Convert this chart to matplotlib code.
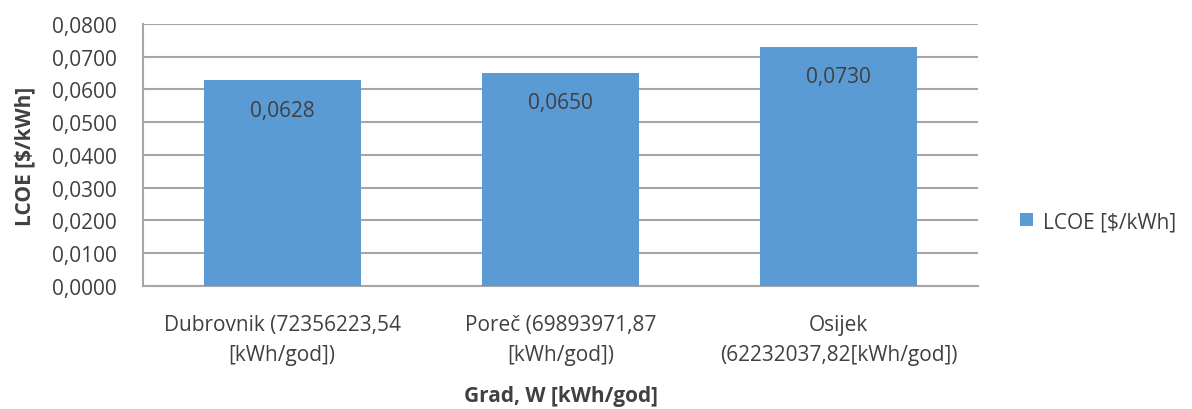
import matplotlib
matplotlib.use("Agg")
import matplotlib.pyplot as plt
from matplotlib.ticker import FuncFormatter, MultipleLocator

categories = ["Dubrovnik (72356223,54\n[kWh/god])",
              "Poreč (69893971,87\n[kWh/god])",
              "Osijek\n(62232037,82[kWh/god])"]
lcoe = [0.0628, 0.0650, 0.0730]
value_labels = ["0,0628", "0,0650", "0,0730"]

plt.rcParams['font.family'] = ['Open Sans', 'DejaVu Sans']
text_color = "#404040"
bar_color = "#5B9BD5"
grid_color = "#A6A6A6"
fs = 15

fig = plt.figure(figsize=(11.92, 4.10), dpi=100)
ax = fig.add_axes([0.12, 0.30, 0.7005, 0.6395])

x = list(range(len(categories)))
bars = ax.bar(x, lcoe, width=0.565, color=bar_color, zorder=3, label="LCOE [$/kWh]")
ax.set_xlim(-0.5, 2.5)
ax.set_ylim(0, 0.08)
ax.yaxis.set_major_locator(MultipleLocator(0.01))
ax.yaxis.set_major_formatter(FuncFormatter(lambda v, p: f"{v:.4f}".replace(".", ",")))
ax.grid(axis="y", color=grid_color, linewidth=1.5, zorder=0)
for s in ["top", "right"]:
    ax.spines[s].set_visible(False)
for s in ["left", "bottom"]:
    ax.spines[s].set_color(grid_color)
    ax.spines[s].set_linewidth(1.5)
ax.tick_params(axis="y", length=0, pad=19, labelsize=fs, labelcolor=text_color)
ax.tick_params(axis="x", length=0, pad=20, labelsize=fs, labelcolor=text_color)
ax.set_xticks(x)
ax.set_xticklabels(categories, linespacing=1.6)

for xi, v, lab in zip(x, lcoe, value_labels):
    ax.annotate(lab, (xi, v), xytext=(0, -30), textcoords="offset pixels",
                ha="center", va="center", fontsize=fs, color=text_color, zorder=4)

ax.set_ylabel("LCOE [$/kWh]", fontsize=fs, fontweight="bold", color=text_color, labelpad=12)
ax.set_xlabel("Grad, W [kWh/god]", fontsize=fs, fontweight="bold", color=text_color, labelpad=14)

fig.legend(handles=[bars], labels=["LCOE [$/kWh]"], loc="center left",
           bbox_to_anchor=(0.840, 0.457), frameon=False, fontsize=fs,
           labelcolor=text_color, handlelength=0.6, handleheight=0.6, handletextpad=0.5)

fig.savefig("out.png", dpi=100)
